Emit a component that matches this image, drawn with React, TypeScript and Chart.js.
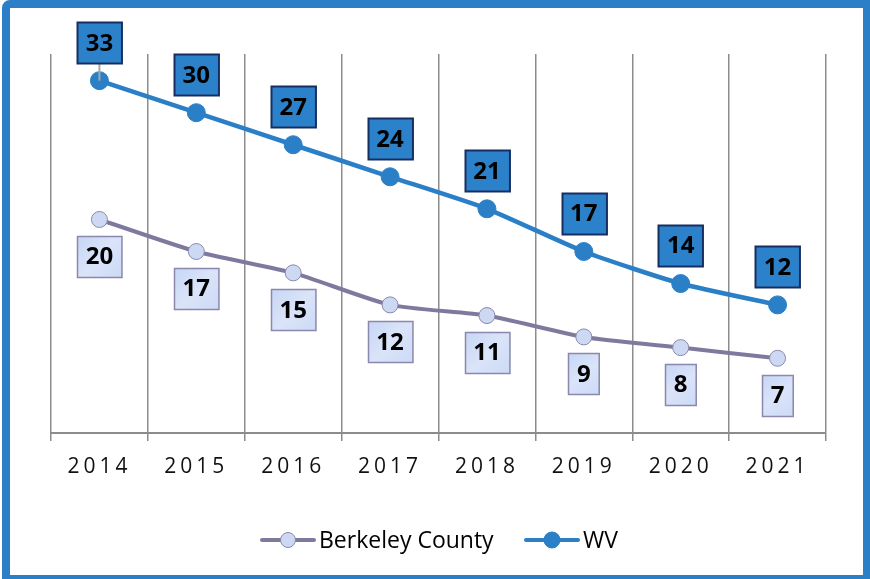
import React, { useEffect, useRef } from 'react';
import { Chart, registerables } from 'chart.js';

Chart.register(...registerables);

const years = ['2014', '2015', '2016', '2017', '2018', '2019', '2020', '2021'];
const berkeleyValues = [20, 17, 15, 12, 11, 9, 8, 7];
const wvValues = [33, 30, 27, 24, 21, 17, 14, 12];
const seriesNames = ['Berkeley County', 'WV'];

const BLUE = '#2A7FC6';
const BERK_LINE = '#7E7A9E';
const BERK_FILL = '#CDD9F3';
const BERK_BORDER = '#8A88AC';

const spacingPlugin = {
  id: 'spacing',
  beforeDraw(chart: any) {
    chart.ctx.letterSpacing = '4px';
  },
  beforeDatasetsDraw(chart: any) {
    chart.ctx.letterSpacing = '0px';
  },
};

const labelPlugin = {
  id: 'boxLabels',
  afterDatasetsDraw(chart: any) {
    const ctx = chart.ctx as CanvasRenderingContext2D;
    ctx.save();
    ctx.letterSpacing = '0px';
    ctx.font = 'bold 24px "Open Sans"';
    ctx.textAlign = 'center';
    ctx.textBaseline = 'middle';
    chart.data.datasets.forEach((ds: any, di: number) => {
      const meta = chart.getDatasetMeta(di);
      meta.data.forEach((pt: any, i: number) => {
        const val = ds.data[i];
        const text = String(val);
        const tw = ctx.measureText(text).width;
        const w = tw + 17;
        const h = 41;
        const isWV = di === 1;
        const cy = isWV ? pt.y - 38 : pt.y + 37;
        const x0 = Math.round(pt.x - w / 2) + 0.5;
        const y0 = Math.round(cy - h / 2) + 0.5;
        if (isWV && i === 0) {
          ctx.strokeStyle = '#A8A8A8';
          ctx.lineWidth = 2;
          ctx.beginPath();
          ctx.moveTo(pt.x, y0 + h);
          ctx.lineTo(pt.x, pt.y);
          ctx.stroke();
        }
        if (isWV) {
          ctx.fillStyle = '#2C82CA';
          ctx.strokeStyle = '#162F60';
          ctx.lineWidth = 2;
        } else {
          const g = ctx.createLinearGradient(x0, y0, x0 + w, y0 + h);
          g.addColorStop(0, '#C6D6F5');
          g.addColorStop(0.5, '#DAE4F9');
          g.addColorStop(1, '#CCDAF6');
          ctx.fillStyle = g;
          ctx.strokeStyle = BERK_BORDER;
          ctx.lineWidth = 1.5;
        }
        ctx.fillRect(x0, y0, w, h);
        ctx.strokeRect(x0, y0, w, h);
        ctx.fillStyle = '#000';
        ctx.fillText(text, pt.x, cy + 1);
      });
    });
    ctx.restore();
  },
};

const legendPlugin = {
  id: 'customLegend',
  afterDraw(chart: any) {
    const ctx = chart.ctx as CanvasRenderingContext2D;
    ctx.save();
    ctx.letterSpacing = '0px';
    const y = 540;
    const items = [
      { x: 260, line: BERK_LINE, fill: BERK_FILL, border: BERK_BORDER, r: 7.5, bw: 1, label: seriesNames[0] },
      { x: 524, line: BLUE, fill: BLUE, border: BLUE, r: 8, bw: 1, label: seriesNames[1] },
    ];
    items.forEach((it) => {
      ctx.strokeStyle = it.line;
      ctx.lineWidth = 4;
      ctx.lineCap = 'round';
      ctx.beginPath();
      ctx.moveTo(it.x + 2, y);
      ctx.lineTo(it.x + 54, y);
      ctx.stroke();
      ctx.beginPath();
      ctx.arc(it.x + 28, y, it.r, 0, Math.PI * 2);
      ctx.fillStyle = it.fill;
      ctx.fill();
      ctx.lineWidth = it.bw;
      ctx.strokeStyle = it.border;
      ctx.stroke();
      ctx.fillStyle = '#000';
      ctx.font = '23px "Open Sans"';
      ctx.textAlign = 'left';
      ctx.textBaseline = 'middle';
      ctx.fillText(it.label, it.x + 59, y + 1);
    });
    ctx.restore();
  },
};

export default function App() {
  const ref = useRef<HTMLCanvasElement>(null);
  useEffect(() => {
    document.body.style.margin = '0';
    document.body.style.overflow = 'hidden';
    const canvas = ref.current!;
    const chart = new Chart(canvas, {
      type: 'line',
      data: {
        labels: years,
        datasets: [
          {
            label: seriesNames[0],
            data: berkeleyValues,
            borderColor: BERK_LINE,
            borderWidth: 4,
            pointRadius: 8,
            pointBackgroundColor: BERK_FILL,
            pointBorderColor: BERK_BORDER,
            pointBorderWidth: 1,
            tension: 0.2,
            fill: false,
          },
          {
            label: seriesNames[1],
            data: wvValues,
            borderColor: BLUE,
            borderWidth: 4.5,
            pointRadius: 9,
            pointBackgroundColor: BLUE,
            pointBorderColor: BLUE,
            pointBorderWidth: 1,
            tension: 0.2,
            fill: false,
          },
        ],
      },
      options: {
        responsive: false,
        devicePixelRatio: 1,
        animation: false,
        layout: { padding: { left: 51, right: 44, top: 54, bottom: 0 } },
        plugins: { legend: { display: false }, tooltip: { enabled: false } },
        scales: {
          x: {
            offset: true,
            grid: {
              offset: true,
              color: '#8C8C8C',
              lineWidth: 1.5,
              drawTicks: true,
              tickLength: 8,
              tickColor: '#8C8C8C',
            },
            border: { color: '#8C8C8C', width: 2 },
            ticks: {
              color: '#111',
              font: { family: '"Open Sans"', size: 21 },
              padding: 13,
              maxRotation: 0,
              autoSkip: false,
            },
            afterFit: (scale: any) => {
              scale.height = 146;
            },
          },
          y: {
            display: false,
            min: 0,
            max: 35.5,
          },
        },
      },
      plugins: [spacingPlugin, labelPlugin, legendPlugin],
    } as any);
    return () => chart.destroy();
  }, []);
  return (
    <div style={{ position: 'relative', width: 870, height: 579, overflow: 'hidden', background: '#fff' }}>
      <canvas ref={ref} width={870} height={579} style={{ position: 'absolute', left: 0, top: 0 }} />
      <div
        style={{
          position: 'absolute',
          left: 2,
          top: 0,
          width: 868,
          height: 579,
          boxSizing: 'border-box',
          borderStyle: 'solid',
          borderColor: BLUE,
          borderWidth: '8px 7px 4px 8px',
          borderTopLeftRadius: 8,
          pointerEvents: 'none',
        }}
      />
    </div>
  );
}
